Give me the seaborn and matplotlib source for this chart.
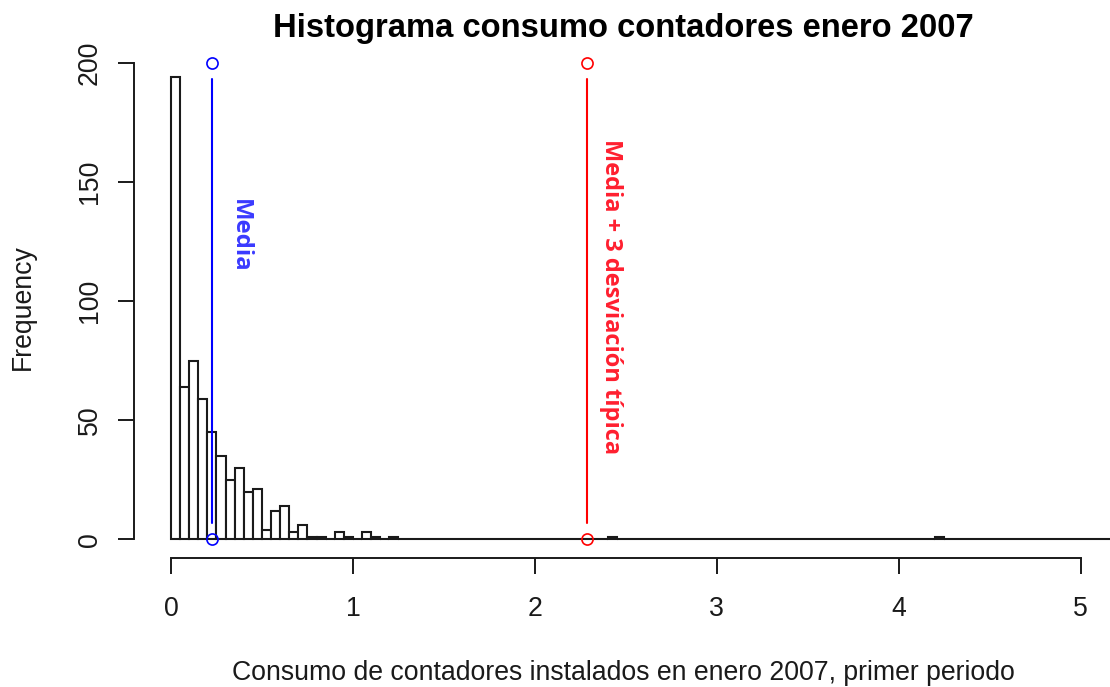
import numpy as np
import pandas as pd
import matplotlib
matplotlib.use("Agg")
import matplotlib.pyplot as plt
import seaborn as sns

# ---- data ----
bin_width = 0.05
bin_max = 5.25
# counts for consecutive bins starting at 0.00 (0.00-0.05, 0.05-0.10, ...)
counts_low = [194, 64, 75, 59, 45, 35, 25, 30, 20, 21, 4, 12, 14, 3, 6,
              1, 1, 0, 3, 1, 0, 3, 1, 0, 1]
# isolated outlier bins (left edge, count)
outlier_lefts = [2.40, 4.20]
outlier_counts = [1, 1]

mean_value = 0.225
mean_plus_3sd = 2.287
line_ends = [0, 200]

title = "Histograma consumo contadores enero 2007"
xlabel = "Consumo de contadores instalados en enero 2007, primer periodo"
ylabel = "Frequency"
xticks = [0, 1, 2, 3, 4, 5]
yticks = [0, 50, 100, 150, 200]
label_mean = "Media"
label_sd = "Media + 3 desviación típica"

# ---- build table ----
lefts = [i * bin_width for i in range(len(counts_low))] + outlier_lefts
weights = counts_low + outlier_counts
df = pd.DataFrame({"x": np.array(lefts) + bin_width / 2, "w": np.array(weights, dtype=float)})

sns.set_style("ticks")
plt.rcParams['font.family'] = ['Liberation Sans', 'DejaVu Sans']

W, H = 1110, 687
fig = plt.figure(figsize=(W / 100, H / 100), dpi=100)
# axes region in pixels: left 134.3, right 1112, top 43.6, bottom 558.3
ax = fig.add_axes([134.3 / W, (H - 558.3) / H, (1112 - 134.3) / W, (558.3 - 43.6) / H])

sns.histplot(data=df, x="x", weights="w", binwidth=bin_width, binrange=(0, bin_max), ax=ax,
             stat="count", element="bars", fill=True,
             facecolor="white", edgecolor="#1a1a1a", linewidth=1.5, alpha=1)

ax.set_xlim(-0.2018, 5.173)
ax.set_ylim(-8, 208)

gap = 7
for xv, col in [(mean_value, "blue"), (mean_plus_3sd, "red")]:
    ax.plot([xv, xv], [line_ends[0] + gap, line_ends[1] - gap], color=col, lw=1.5)
    ax.plot([xv, xv], line_ends, linestyle="none", marker="o", markersize=8,
            markerfacecolor="none", markeredgecolor=col, markeredgewidth=1.2)

ax.text(0.379, 127.3, label_mean, rotation=-90, ha="center", va="center",
        color="#3a3aff", fontsize=17.2, fontweight="bold", family=["Open Sans", "DejaVu Sans"])
ax.text(2.42, 102, label_sd, rotation=-90, ha="center", va="center",
        color="#ff1f2f", fontsize=17.0, fontweight="bold", family=["Open Sans", "DejaVu Sans"])

# axes styling, R-like
for s in ["top", "right"]:
    ax.spines[s].set_visible(False)
ax.spines["left"].set_bounds(0, 200)
ax.spines["bottom"].set_bounds(0, 5)
for s in ["left", "bottom"]:
    ax.spines[s].set_linewidth(1.4)
    ax.spines[s].set_color("#1a1a1a")
ax.set_xticks(xticks)
ax.set_yticks(yticks)
ax.set_xticklabels([str(t) for t in xticks])
ax.set_yticklabels([str(t) for t in yticks], rotation=90, va="center")
ax.tick_params(axis="both", which="major", bottom=True, left=True, top=False, right=False,
               direction="out", length=11.5, width=1.4, color="#1a1a1a",
               labelsize=19.2, labelcolor="#1a1a1a")
ax.tick_params(axis="x", pad=16)
ax.tick_params(axis="y", pad=11)
ax.set_xlabel("")
ax.set_ylabel("")
ax.grid(False)

fig.text(623 / W, 1 - 37.5 / H, title, ha="center", va="baseline",
         fontsize=23.6, fontweight="bold", color="black")
fig.text(623 / W, 1 - 680 / H, xlabel, ha="center", va="baseline",
         fontsize=19.2, color="#1a1a1a")
fig.text(22.5 / W, 1 - 307.5 / H, ylabel, ha="center", va="center", rotation=90,
         fontsize=19.2, color="#1a1a1a")

fig.savefig("out.png", dpi=100)
